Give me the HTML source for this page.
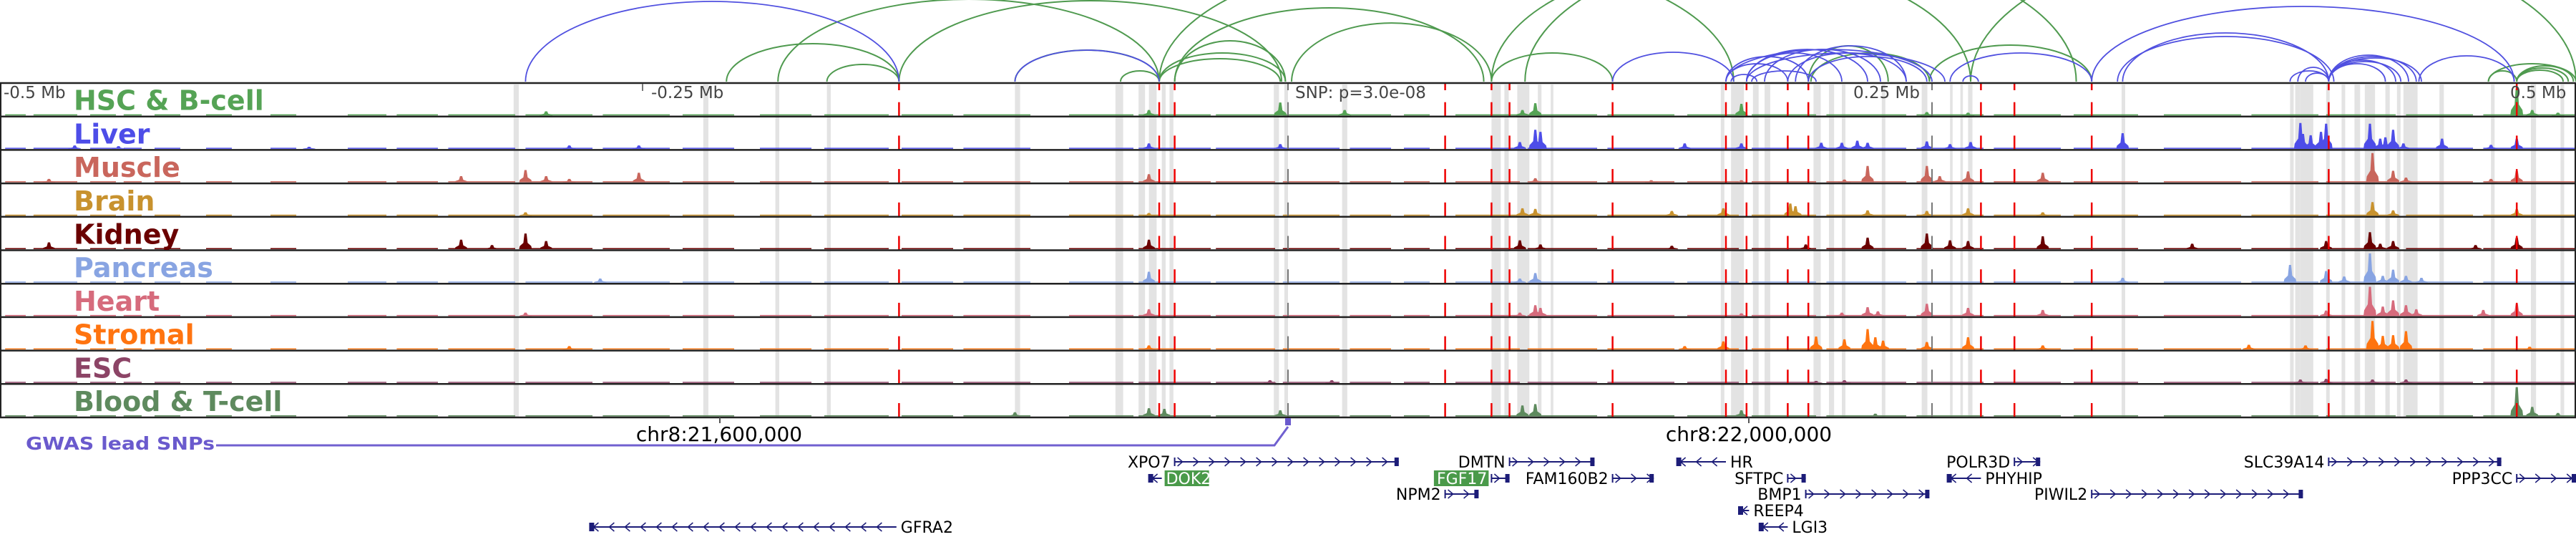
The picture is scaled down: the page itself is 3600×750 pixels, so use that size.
<!DOCTYPE html>
<html><head><meta charset="utf-8"><style>
html,body{margin:0;padding:0;background:#fff;}
svg{display:block;}
text{font-family:"DejaVu Sans","Liberation Sans",sans-serif;}
</style></head>
<body>
<svg id="chart" width="3600" height="750" viewBox="0 0 3600 750" xmlns="http://www.w3.org/2000/svg">
<g id="arcs"></g>
<g id="bands"></g>
<g id="tracks"></g>
<g id="lines"></g>
<g id="frame"></g>
<g id="labels"></g>
<g id="axis">
  <text x="5" y="137" font-size="23" fill="#444">-0.5 Mb</text>
  <line x1="898" y1="117" x2="898" y2="127" stroke="#777" stroke-width="2"/>
  <text x="910" y="137" font-size="23" fill="#444">-0.25 Mb</text>
  <text x="1810" y="137" font-size="23" fill="#444">SNP: p=3.0e-08</text>
  <text x="2590" y="137" font-size="23" fill="#444">0.25 Mb</text>
  <text x="3508" y="137" font-size="23" fill="#444">0.5 Mb</text>
</g>
<g id="coords">
  <line x1="1006" y1="583" x2="1006" y2="591" stroke="#555" stroke-width="2"/>
  <text x="1005" y="616" font-size="28" text-anchor="middle" font-family="Liberation Sans, sans-serif" fill="#000">chr8:21,600,000</text>
  <line x1="2444" y1="583" x2="2444" y2="591" stroke="#555" stroke-width="2"/>
  <text x="2444" y="616" font-size="28" text-anchor="middle" font-family="Liberation Sans, sans-serif" fill="#000">chr8:22,000,000</text>
</g>
<g id="gwas">
  <text x="36" y="628" font-size="25" font-weight="bold" fill="#6a5acd" textLength="264" lengthAdjust="spacingAndGlyphs">GWAS lead SNPs</text>
  <polyline points="302,622 1781,622 1800,596" fill="none" stroke="#7060d0" stroke-width="3"/>
  <rect x="1796" y="584" width="8" height="10" fill="#6a5acd"/>
</g>
<g id="genes"></g>
</svg>
<script>
// genomic coordinate: kb relative to lead SNP
const trackNames = ["HSC & B-cell","Liver","Muscle","Brain","Kidney","Pancreas","Heart","Stromal","ESC","Blood & T-cell"];
const trackColors = ["#55a355","#4d4de8","#c9665c","#c8922e","#6a0000","#88a4e2","#d66b7c","#ff7410","#8c4466","#5e8a5e"];
const peaksHSC = [[-288,6],[-54,8],[-3,19],[22,8],[91,8],[96,18],[176,17],[248,5],[264,4],[477,40],[483,8],[493,4]];
const peaksLiver = [[-471,5],[-454,4],[-380,3],[-279,5],[-252,5],[-54,8],[-3,7],[90,10],[96,28],[98,25],[154,8],[176,8],[207,9],[215,9],[221,12],[225,9],[248,11],[257,7],[265,10],[324,23],[393,38],[394,22],[397,20],[401,25],[403,37],[420,37],[424,15],[426,17],[429,28],[433,8],[448,15],[467,6],[477,15]];
const peaksMuscle = [[-481,5],[-321,9],[-296,18],[-288,9],[-279,5],[-252,14],[-54,12],[96,6],[141,3],[176,3],[216,4],[225,24],[248,24],[253,9],[264,16],[293,14],[421,43],[429,17],[434,7],[467,5],[477,17]];
const peaksBrain = [[-296,5],[-54,4],[91,11],[96,10],[149,7],[169,11],[195,18],[197,14],[225,8],[248,7],[264,11],[293,5],[421,20],[429,8],[477,10]];
const peaksKidney = [[-481,10],[-321,14],[-309,6],[-296,23],[-288,12],[-54,14],[90,13],[98,7],[149,5],[201,7],[225,17],[248,23],[257,13],[264,12],[293,19],[351,8],[403,12],[420,25],[424,8],[429,12],[461,6],[477,17]];
const peaksPancreas = [[-267,6],[-54,16],[90,6],[96,14],[324,7],[389,26],[403,17],[410,9],[420,43],[425,10],[429,19],[434,10],[440,7]];
const peaksHeart = [[-296,5],[-54,10],[90,5],[96,16],[98,12],[176,4],[215,5],[225,13],[229,7],[248,18],[264,12],[293,9],[403,8],[420,43],[425,14],[429,23],[434,16],[438,10],[464,9],[477,18]];
const peaksStromal = [[-279,5],[-54,6],[154,5],[169,12],[205,19],[216,15],[225,30],[228,18],[231,13],[248,11],[264,18],[293,6],[373,7],[395,6],[421,42],[425,20],[429,21],[434,27],[482,4]];
const peaksESC = [[-7,4],[17,4],[205,3],[216,4],[393,5],[403,6],[421,5],[434,5]];
const peaksBlood = [[-106,6],[-54,12],[-48,11],[-3,9],[91,16],[96,18],[176,9],[228,4],[477,43],[483,14],[493,5]];
const trackPeaks = [peaksHSC,peaksLiver,peaksMuscle,peaksBrain,peaksKidney,peaksPancreas,peaksHeart,peaksStromal,peaksESC,peaksBlood];
const coverage = [[-498,-490],[-487,-470],[-465,-455],[-452,-445],[-440,-430],[-420,-410],[-395,-385],[-365,-350],[-346,-330],[-326,-300],[-296,-270],[-266,-240],[-235,-215],[-205,-185],[-180,-155],[-150,-130],[-126,-100],[-85,-60],[-58,-30],[-28,-5],[-2,20],[24,40],[45,55],[65,90],[93,120],[124,150],[155,175],[180,205],[209,240],[244,270],[274,300],[305,330],[340,370],[374,400],[403,430],[434,460],[464,500]];
const redLines = [-151,-50,-44,61,79,86,126,170,178,194,202,269,282,312,404,477];
const grayLines = [0,250];
const bands = [[-300.6,2],[-227,2],[-199,1.5],[-179,1.5],[-106,2],[-67,3],[-58,2.5],[-54,3],[-49,1.5],[-46,1.5],[-5.5,2],[-1.4,1.4],[21,2],[79,3.6],[84,1.7],[89,4.7],[97,1.4],[102,1],[168,1.4],[172,5],[180.5,2.2],[185,2.2],[204,2.8],[210,2],[215,1.4],[230.5,1.4],[246,2.2],[257,1],[261,1],[264,1.7],[323.6,1.4],[389,1.4],[391,2],[393,5],[403,1.4],[409,1.4],[414,2.2],[418,4],[426,1.7],[430.5,1.4],[433,5.5],[447,1.7],[467,1.4],[482.5,2],[494,1.4]];
const arcsBlue = [[-296,-151,112],[-106,-50,44],[126,173,41],[170,194,25],[170,202,35],[178,215,40],[178,225,45],[185,230,45],[194,240,40],[202,248,35],[170,250,45],[178,255,40],[197,240,50],[180,205,15],[172,182,10],[257,312,40],[262,268,8],[312,476,105],[324,404,68],[322,406,63],[389,404,15],[392,404,20],[404,430,30],[404,435,37],[404,438,35],[404,440,33],[404,426,25],[404,432,28],[395,404,12],[439,476,36]];
const arcsGreen = [[-218,-151,53],[-179,-151,24],[-198,-50,115],[-151,-2.5,113],[-106,-50,44],[-65,-50,15],[-44,-1,57],[-50,-1,40],[-50,-3,32],[-44,76,103],[1.4,79,82],[-50,173,178],[79,265,170],[92,306,190],[79,126,40],[265,500,200],[203,249,40],[202,233,50],[249,312,51],[466,500,25],[477,499,22],[477,497,19],[477,495,16],[466,477,15]];
const genes = [
 ["XPO7",-44,43,1,0,"left",false],["DOK2",-54,-49,-1,1,"right",true],["DMTN",86,119,1,0,"left",false],
 ["FGF17",79,86,1,1,"left",true],["FAM160B2",126,142,1,1,"left",false],["NPM2",61,74,1,2,"left",false],
 ["HR",151,170,-1,0,"right",false],["SFTPC",194,201,1,1,"left",false],["BMP1",201,249,1,2,"left",false],
 ["REEP4",175,179,-1,3,"right",false],["LGI3",183,194,-1,4,"right",false],["POLR3D",282,292,1,0,"left",false],
 ["PHYHIP",256,269,-1,1,"right",false],["PIWIL2",312,394,1,2,"left",false],["SLC39A14",404,471,1,0,"left",false],
 ["PPP3CC",477,505,1,1,"left",false],["GFRA2",-271,-152,-1,4,"right",false]];

const NS="http://www.w3.org/2000/svg";
const X = kb => 1800 + kb*3.6;
const TOP=116, TH=46.7;
const Y = (t,v) => TOP + (t+1)*TH - 1.5 - v*0.95;
function mk(tag, parent, attrs){const e=document.createElementNS(NS,tag);for(const k in attrs)e.setAttribute(k,attrs[k]);parent.appendChild(e);return e;}

const gB=document.getElementById('bands');
bands.forEach(b=>{
  const r=mk('rect',gB,{x:X(b[0]),y:TOP+2,width:Math.max(2,b[1]*3.6),height:TH*10-2,fill:'#e3e3e3'});
  
  
});
const gT=document.getElementById('tracks');
trackNames.forEach((nm,t)=>{
  const g=mk('g',gT,{});
  
  
  coverage.forEach(c=>{
    const r=mk('rect',g,{x:X(c[0]),y:Y(t,1.6),width:(c[1]-c[0])*3.6,height:1.5,fill:trackColors[t]});
    
    
  });
  trackPeaks[t].forEach(p=>{
    const x=X(p[0]), yb=Y(t,0), yt=Y(t,p[1]);
    const pg=mk('polygon',g,{points:`${x-9},${yb} ${x-8},${yb-(yb-yt)*0.2} ${x-3},${yb-(yb-yt)*0.4} ${x-1.5},${yt} ${x+1.5},${yt} ${x+3},${yb-(yb-yt)*0.4} ${x+8},${yb-(yb-yt)*0.2} ${x+9},${yb}`,fill:trackColors[t]});
    
    
  });
});
const gL=document.getElementById('lines');
function vline(kb,color,w){
  for(let t=0;t<10;t++){
    const yb=TOP+(t+1)*TH;
    const l=mk('line',gL,{x1:X(kb),x2:X(kb),y1:yb-20,y2:yb,stroke:color,'stroke-width':w});
    
    
  }
  const l=mk('line',gL,{x1:X(kb),x2:X(kb),y1:TOP,y2:TOP+10,stroke:color,'stroke-width':w});
  
  
}
redLines.forEach(k=>vline(k,'#ee0000',2.5));
grayLines.forEach(k=>vline(k,'#777',2));
const gF=document.getElementById('frame');
for(let t=0;t<=10;t++){
  const l=mk('line',gF,{x1:0,x2:3600,y1:TOP+t*TH,y2:TOP+t*TH,stroke:'#222','stroke-width':2.5});
  
  
}
mk('line',gF,{x1:1,x2:1,y1:TOP,y2:TOP+10*TH,stroke:'#222','stroke-width':2});
mk('line',gF,{x1:3599,x2:3599,y1:TOP,y2:TOP+10*TH,stroke:'#222','stroke-width':2});
const gLab=document.getElementById('labels');
trackNames.forEach((nm,t)=>{
  const tx=mk('text',gLab,{x:103,y:TOP+(t+1)*TH-9,'font-size':38,'font-weight':'bold',fill:trackColors[t]});
  tx.textContent=nm;
  
  
});
const gA=document.getElementById('arcs');
function arc(a,color,w){
  const x1=X(a[0]),x2=X(a[1]),rx=(x2-x1)/2,base=114;
  const p=mk('path',gA,{d:`M${x1},${base} A${rx},${a[2]} 0 0 1 ${x2},${base}`,fill:'none',stroke:color,'stroke-width':w});
  
  
}
arcsGreen.forEach(a=>arc(a,'#4f9a4f',2));
arcsBlue.forEach(a=>arc(a,'#5050e0',1.8));
const gG=document.getElementById('genes');
const rowY=[645,668,690,713,736];
genes.forEach(gn=>{
  const [name,s,e,strand,row,side,hl]=gn;
  const x1=X(s),x2=Math.min(X(e),3600),y=rowY[row];
  const g=mk('g',gG,{});
  
  
  mk('line',g,{x1:x1,x2:x2,y1:y,y2:y,stroke:'#1c1c78','stroke-width':2});
  for(let x=x1+8;x<x2-4;x+=22){
    const d=strand>0?`M${x-4},${y-6} L${x+3},${y} L${x-4},${y+6}`:`M${x+4},${y-6} L${x-3},${y} L${x+4},${y+6}`;
    mk('path',g,{d:d,fill:'none',stroke:'#1c1c78','stroke-width':1.5});
  }
  mk('rect',g,{x:(strand>0?x2-6:x1),y:y-6,width:6,height:12,fill:'#1c1c78'});
  mk('line',g,{x1:x1,x2:x1,y1:y-6,y2:y+6,stroke:'#1c1c78','stroke-width':2});
  const tx=side==='left'?x1-4:x2+4;
  const anchor=side==='left'?'end':'start';
  if(hl){
    const w=name.length*14.5+4;
    mk('rect',g,{x:side==='left'?tx-w:tx,y:y-11,width:w,height:22,fill:'#4a9a4a'});
  }
  const t=mk('text',g,{x:side==='left'?tx-2:tx+2,y:y+8,'font-size':22,'text-anchor':anchor,fill:hl?'#fff':'#000','font-family':'Liberation Sans, sans-serif'});
  t.textContent=name;
  
  
});
</script>
</body></html>
